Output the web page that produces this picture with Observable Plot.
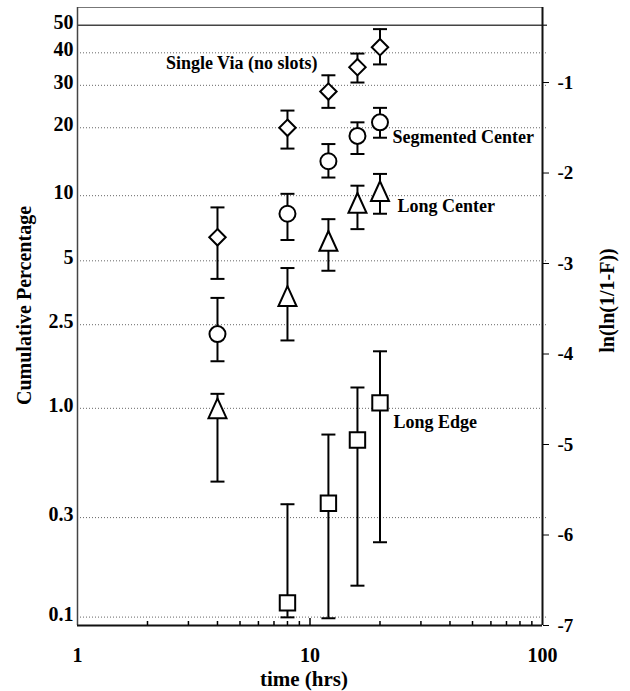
<!DOCTYPE html>
<html>
<head>
<meta charset="utf-8">
<script src="https://cdn.jsdelivr.net/npm/d3@7"></script>
<script src="https://cdn.jsdelivr.net/npm/@observablehq/plot@0.6"></script>
<style>
  html, body { margin: 0; padding: 0; background: #fff; }
</style>
</head>
<body>
<div id="chart"></div>
<script>
// ---- Data (y values in ln(ln(1/(1-F))) units) ----
const times = [4, 8, 12, 16, 20];

const singleViaVal = [-2.71, -1.50, -1.10, -0.83, -0.61];
const singleViaLo  = [-3.17, -1.73, -1.28, -1.00, -0.80];
const singleViaHi  = [-2.38, -1.31, -0.92, -0.68, -0.41];

const segmentedVal = [-3.78, -2.45, -1.87, -1.59, -1.44];
const segmentedLo  = [-4.08, -2.74, -2.05, -1.79, -1.61];
const segmentedHi  = [-3.38, -2.23, -1.68, -1.44, -1.28];

const longCenterVal = [-4.60, -3.36, -2.75, -2.33, -2.20];
const longCenterLo  = [-5.41, -3.85, -3.08, -2.62, -2.45];
const longCenterHi  = [-4.44, -3.05, -2.51, -2.14, -2.01];

const longEdgeTimes = [8, 12, 16, 20];
const longEdgeVal = [-6.75, -5.65, -4.95, -4.54];
const longEdgeLo  = [-6.91, -6.92, -6.56, -6.08];
const longEdgeHi  = [-5.66, -4.89, -4.37, -3.97];

const seriesNames = ["Single Via (no slots)", "Segmented Center", "Long Center", "Long Edge"];

// left axis: cumulative percentage ticks
const pctTicks  = [50, 40, 30, 20, 10, 5, 2.5, 1.0, 0.3, 0.1];
const pctLabels = ["50", "40", "30", "20", "10", "5", "2.5", "1.0", "0.3", "0.1"];
// right axis ticks
const lnTicks = [-1, -2, -3, -4, -5, -6, -7];
// x axis
const xLabelTicks = [1, 10, 100];
const xMinorTicks = [2, 3, 4, 5, 6, 7, 8, 9, 20, 30, 40, 50, 60, 70, 80, 90];
const xMajorTicks = [10];

const xDomain = [1, 100];
const yDomain = [-7, -0.171];

// ---- helpers ----
const weib = p => Math.log(-Math.log(1 - p / 100));
function build(ts, v, lo, hi, name) {
  return ts.map((t, i) => ({t, v: v[i], lo: lo[i], hi: hi[i], name}));
}
const sv = build(times, singleViaVal, singleViaLo, singleViaHi, seriesNames[0]);
const sc = build(times, segmentedVal, segmentedLo, segmentedHi, seriesNames[1]);
const lc = build(times, longCenterVal, longCenterLo, longCenterHi, seriesNames[2]);
const le = build(longEdgeTimes, longEdgeVal, longEdgeLo, longEdgeHi, seriesNames[3]);
const all = [...sv, ...sc, ...lc, ...le];

const gridData = pctTicks.filter(p => p !== 50).map(p => ({y: weib(p)}));
const fiftyData = [{y: weib(50)}];

const capSymbol = {draw(ctx, size) { ctx.moveTo(-7, 0); ctx.lineTo(7, 0); }};
const triSymbol = {draw(ctx, size) {
  const r = Math.sqrt(size / Math.PI);
  ctx.moveTo(0, -1.1 * r); ctx.lineTo(r, 1.1 * r); ctx.lineTo(-r, 1.1 * r); ctx.closePath();
}};

const font = "'Liberation Serif', 'Times New Roman', serif";
const markerStyle = {x: "t", y: "v", fill: "white", stroke: "black", strokeWidth: 2};

const last = arr => [arr[arr.length - 1]];

const chart = Plot.plot({
  width: 630,
  height: 691,
  marginTop: 7,
  marginRight: 88,
  marginBottom: 66,
  marginLeft: 77,
  style: {fontFamily: font, fontWeight: "bold", fontSize: "18px", background: "white", color: "black"},
  x: {type: "log", domain: xDomain, label: null},
  y: {domain: yDomain, label: null},
  marks: [
    // grid
    Plot.ruleY(gridData, {y: "y", stroke: "#666", strokeWidth: 1, strokeDasharray: "1,2", insetRight: -5}),
    Plot.ruleY(fiftyData, {y: "y", stroke: "#444", strokeWidth: 1.5, insetRight: -5}),
    // frame lines
    Plot.ruleY([yDomain[1]], {stroke: "#777", strokeWidth: 1}),
    Plot.ruleX([xDomain[0]], {stroke: "#444", strokeWidth: 1.5}),
    Plot.ruleX([xDomain[1]], {stroke: "#111", strokeWidth: 2}),
    Plot.ruleY([yDomain[0]], {stroke: "#111", strokeWidth: 2}),
    // axes
    Plot.axisY({
      anchor: "left", ticks: pctTicks.map(weib), tickSize: 0, tickPadding: 4, dy: -3,
      tickFormat: (d, i) => pctLabels[i], fontSize: 20, label: null
    }),
    Plot.axisY({
      anchor: "right", ticks: lnTicks, tickSize: 6, tickPadding: 9, strokeWidth: 1,
      tickFormat: d => "-" + Math.abs(d), fontSize: 19, label: null
    }),
    Plot.axisX({ticks: xMinorTicks, tickSize: -4, fill: "none", strokeWidth: 1.5, label: null}),
    Plot.axisX({ticks: xMajorTicks, tickSize: -7, fill: "none", strokeWidth: 1.5, label: null}),
    Plot.axisX({ticks: xLabelTicks, tickSize: 0, tickPadding: 22, tickFormat: d => String(d), fontSize: 20, label: null}),
    // axis titles
    Plot.text(["Cumulative Percentage"], {frameAnchor: "left", textAnchor: "middle", lineAnchor: "middle", dx: -53, dy: -11, rotate: -90, fontSize: 20}),
    Plot.text(["ln(ln(1/1-F))"], {frameAnchor: "right", textAnchor: "middle", lineAnchor: "middle", dx: 65, dy: -16, rotate: -90, fontSize: 20}),
    Plot.text(["time (hrs)"], {frameAnchor: "bottom", textAnchor: "middle", lineAnchor: "middle", dx: -6, dy: 54, fontSize: 21}),
    // error bars
    Plot.ruleX(all, {x: "t", y1: "lo", y2: "hi", stroke: "black", strokeWidth: 2}),
    Plot.dot(all, {x: "t", y: "lo", symbol: capSymbol, r: 5, fill: "none", stroke: "black", strokeWidth: 2}),
    Plot.dot(all, {x: "t", y: "hi", symbol: capSymbol, r: 5, fill: "none", stroke: "black", strokeWidth: 2}),
    // markers
    Plot.dot(sv, {...markerStyle, symbol: "diamond2", r: 7.4}),
    Plot.dot(sc, {...markerStyle, symbol: "circle", r: 8}),
    Plot.dot(lc, {...markerStyle, symbol: triSymbol, r: 9}),
    Plot.dot(le, {...markerStyle, symbol: "square", r: 8.7}),
    // series labels
    Plot.text([sv[3]], {x: "t", y: "v", text: "name", textAnchor: "end", dx: -40, dy: -4, fontSize: 18}),
    Plot.text(last(sc), {x: "t", y: "v", text: "name", textAnchor: "start", dx: 12.5, dy: 15, fontSize: 18}),
    Plot.text(last(lc), {x: "t", y: "v", text: "name", textAnchor: "start", dx: 17.5, dy: 15, fontSize: 18}),
    Plot.text(last(le), {x: "t", y: "v", text: "name", textAnchor: "start", dx: 13.5, dy: 19, fontSize: 18})
  ]
});
document.getElementById("chart").appendChild(chart);
</script>
</body>
</html>
